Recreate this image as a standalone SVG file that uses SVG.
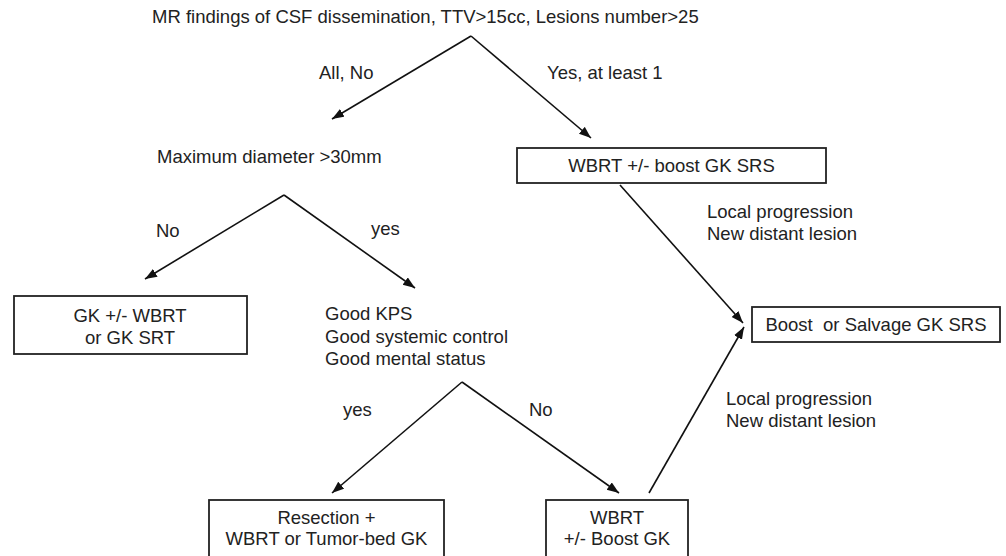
<svg xmlns="http://www.w3.org/2000/svg" width="1006" height="556" viewBox="0 0 1006 556">
<defs>
<marker id="ah" markerUnits="userSpaceOnUse" markerWidth="13" markerHeight="10" refX="12" refY="4.5" orient="auto">
<path d="M0,0 L12,4.5 L0,9 z" fill="#111"/>
</marker>
<style>
text{font-family:"Liberation Sans",Arial,sans-serif;font-size:18.5px;fill:#222}
.c{text-anchor:middle}
.box{fill:#fff;stroke:#222;stroke-width:1.8}
.ln{stroke:#111;stroke-width:1.6;fill:none;marker-end:url(#ah)}
.pl{stroke:#111;stroke-width:1.6;fill:none}
</style>
</defs>
<rect width="1006" height="556" fill="#fff"/>
<g id="connectors">
<line class="ln" x1="471" y1="36" x2="332" y2="119"/>
<line class="ln" x1="471" y1="36" x2="591" y2="138"/>
<line class="ln" x1="284" y1="195" x2="145" y2="279"/>
<line class="ln" x1="284" y1="195" x2="415" y2="288"/>
<line class="ln" x1="462" y1="382" x2="332" y2="493"/>
<line class="ln" x1="462" y1="382" x2="619" y2="493"/>
<line class="ln" x1="620" y1="185" x2="743" y2="323"/>
<line class="ln" x1="649" y1="493" x2="744" y2="327"/>
<text x="319" y="79">All, No</text>
<text x="547" y="79">Yes, at least 1</text>
<text x="156" y="237">No</text>
<text x="371" y="235">yes</text>
<text x="343" y="416">yes</text>
<text x="529" y="416">No</text>
<text x="707" y="218">Local progression</text>
<text x="707" y="240">New distant lesion</text>
<text x="726" y="405">Local progression</text>
<text x="726" y="427">New distant lesion</text>
</g>
<g id="n-top"><text x="152" y="23">MR findings of CSF dissemination, TTV&gt;15cc, Lesions number&gt;25</text></g>
<g id="n-maxdiam"><text x="157" y="163">Maximum diameter &gt;30mm</text></g>
<g id="n-wbrt-boost">
<rect class="box" x="517" y="148" width="309" height="35"/>
<text class="c" x="671.5" y="172">WBRT +/- boost GK SRS</text>
</g>
<g id="n-gk">
<rect class="box" x="14" y="296" width="233" height="58"/>
<text class="c" x="130" y="322">GK +/- WBRT</text>
<text class="c" x="130" y="344">or GK SRT</text>
</g>
<g id="n-good">
<text x="325" y="320">Good KPS</text>
<text x="325" y="343">Good systemic control</text>
<text x="325" y="365">Good mental status</text>
</g>
<g id="n-salvage">
<rect class="box" x="752" y="307" width="248" height="35"/>
<text class="c" x="876" y="331" xml:space="preserve">Boost  or Salvage GK SRS</text>
</g>
<g id="n-resection">
<rect class="box" x="209" y="500" width="235" height="70"/>
<text class="c" x="326.5" y="524">Resection +</text>
<text class="c" x="326.5" y="545">WBRT or Tumor-bed GK</text>
</g>
<g id="n-wbrt">
<rect class="box" x="546" y="500" width="142" height="70"/>
<text class="c" x="617" y="524">WBRT</text>
<text class="c" x="617" y="545">+/- Boost GK</text>
</g>
</svg>
